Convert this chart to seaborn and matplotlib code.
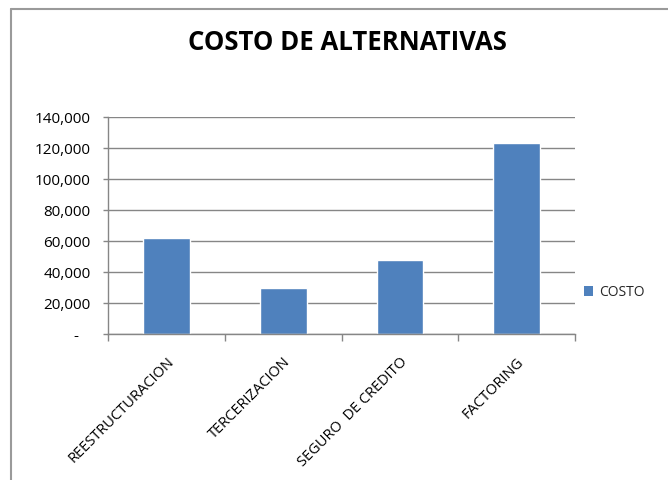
import matplotlib
matplotlib.use("Agg")
import matplotlib.pyplot as plt
from matplotlib.lines import Line2D
from matplotlib.ticker import FuncFormatter, FixedLocator
import seaborn as sns
import pandas as pd

# Data
categorias = ["REESTRUCTURACION", "TERCERIZACION", "SEGURO  DE CREDITO", "FACTORING"]
costos = [62000, 29500, 48000, 123000]
serie = "COSTO"
y_ticks = [0, 20000, 40000, 60000, 80000, 100000, 120000, 140000]

df = pd.DataFrame({"alternativa": categorias, "costo": costos, "serie": [serie] * len(categorias)})

sns.set_theme(style="white")
plt.rcParams["font.family"] = ["Open Sans", "DejaVu Sans"]

BAR = "#4F81BD"
GRID = "#868686"
TXT = "#000000"

fig = plt.figure(figsize=(6.68, 4.81), dpi=100)
ax = fig.add_axes([108.3 / 668, 1 - 335 / 481, (575 - 108.3) / 668, (335 - 118) / 481])

sns.barplot(data=df, x="alternativa", y="costo", hue="serie", palette=[BAR],
            width=0.4, saturation=1, ax=ax, legend=False)

ax.set_xlim(-0.5, len(categorias) - 0.5)
ax.set_ylim(y_ticks[0], y_ticks[-1])
ax.yaxis.set_major_locator(FixedLocator(y_ticks))
ax.yaxis.set_major_formatter(FuncFormatter(lambda v, p: "-   " if v == 0 else f"{v:,.0f}"))
ax.grid(axis="y", color=GRID, linewidth=1.0)
ax.set_axisbelow(True)
ax.set_xlabel("")
ax.set_ylabel("")

for side in ["top", "right"]:
    ax.spines[side].set_visible(False)
for side in ["left", "bottom"]:
    ax.spines[side].set_color(GRID)
    ax.spines[side].set_linewidth(1.0)

# category boundary ticks on x, outward ticks on y
ax.xaxis.set_minor_locator(FixedLocator([i - 0.5 for i in range(len(categorias) + 1)]))
ax.tick_params(axis="x", which="minor", length=5, color=GRID, width=1, direction="out", bottom=True)
ax.tick_params(axis="x", which="major", length=0, pad=14, labelsize=10.5, labelcolor=TXT)
ax.tick_params(axis="y", which="major", length=3.6, color=GRID, width=1, direction="out",
               left=True, pad=9, labelsize=11, labelcolor=TXT)
for lbl in ax.get_xticklabels():
    lbl.set_rotation(45)
    lbl.set_ha("right")
    lbl.set_va("top")
    lbl.set_rotation_mode("anchor")

fig.text(347 / 668, 1 - 43 / 481, "COSTO DE ALTERNATIVAS", ha="center", va="center",
         fontsize=18.5, fontweight="bold", color=TXT)

handle = plt.Rectangle((0, 0), 1, 1, facecolor=BAR, edgecolor="none")
fig.legend([handle], [serie], loc="center left", bbox_to_anchor=(578 / 668, 1 - 293 / 481),
           frameon=False, fontsize=10, handlelength=0.7, handleheight=0.7,
           handletextpad=0.4, borderaxespad=0)

# outer chart frame
fig.add_artist(Line2D([11 / 668, 11 / 668], [0, 1 - 10 / 481], color="#9a9a9a", linewidth=1.5,
                      transform=fig.transFigure))
fig.add_artist(Line2D([11 / 668, 1], [1 - 10 / 481, 1 - 10 / 481], color="#9a9a9a", linewidth=1.5,
                      transform=fig.transFigure))

fig.savefig("out.png", dpi=100, facecolor="white")
